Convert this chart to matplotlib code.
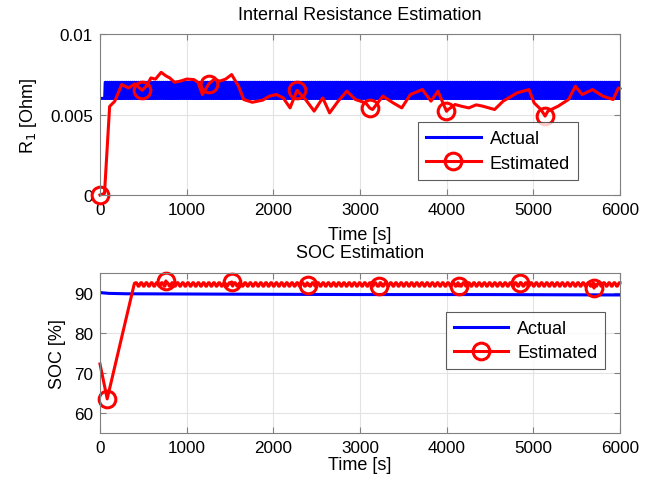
import numpy as np
import matplotlib
matplotlib.use('Agg')
import matplotlib.pyplot as plt

plt.rcParams['font.family'] = ['Liberation Sans', 'DejaVu Sans']

# ---- internal resistance (top) ----
r1_low, r1_high = 0.006, 0.007      # pulse levels of the actual R1
r1_pulse_start = 60                  # s
r1_half_period = 12                  # s

r1_est_t = [0, 52, 111, 171, 250, 329, 400, 488, 540, 587, 640, 706, 760, 805, 860,
            924, 1000, 1083, 1130, 1182, 1255, 1320, 1380, 1450, 1519, 1598, 1658,
            1757, 1876, 1955, 2035, 2114, 2193, 2273, 2372, 2471, 2570, 2649, 2748,
            2848, 2947, 3066, 3113, 3145, 3264, 3383, 3482, 3581, 3720, 3819, 3899,
            3998, 4018, 4097, 4180, 4256, 4340, 4414, 4553, 4652, 4811, 4950, 5009,
            5088, 5136, 5168, 5287, 5406, 5485, 5564, 5683, 5802, 5921, 5981, 6000]
r1_est_v = [0.0, 0.0001, 0.0055, 0.00583, 0.00686, 0.00665, 0.0069, 0.0065, 0.0068,
            0.00727, 0.0072, 0.00762, 0.0074, 0.00727, 0.0070, 0.00707, 0.0072,
            0.00717, 0.0070, 0.00624, 0.0069, 0.0072, 0.00707, 0.0072, 0.00748,
            0.00676, 0.00593, 0.00576, 0.00589, 0.00614, 0.00624, 0.00603, 0.00541,
            0.0065, 0.00593, 0.00521, 0.00603, 0.0051, 0.00583, 0.00645, 0.00593,
            0.00572, 0.0054, 0.00531, 0.00614, 0.00572, 0.00541, 0.00624, 0.00655,
            0.00583, 0.00645, 0.0052, 0.00531, 0.00562, 0.0055, 0.00541, 0.0056,
            0.00552, 0.00531, 0.00583, 0.00634, 0.00655, 0.00572, 0.00531, 0.0049,
            0.00521, 0.00552, 0.00593, 0.00676, 0.00624, 0.00655, 0.00614, 0.00593,
            0.00665, 0.0066]
r1_marker_t = [0, 488, 1255, 2273, 3113, 3998, 5136]

# ---- SOC (bottom) ----
soc_act_t = [0, 100, 300, 1500, 3000, 4500, 6000]
soc_act_v = [90.0, 89.8, 89.7, 89.6, 89.5, 89.5, 89.4]

soc_est_start_t = [0, 83, 397]
soc_est_start_v = [72.2, 63.5, 92.3]
soc_est_level = 92.0
soc_ripple = [0.45, 0.45, 0.1, -0.4, -0.4, 0.0]   # repeating 60 s ripple, 10 s steps
soc_marker_t = [83, 757, 1519, 2399, 3224, 4137, 4850, 5703]
soc_marker_v = [63.5, 92.9, 92.65, 91.9, 91.65, 91.65, 92.5, 91.1]

# build actual R1 pulse train
t_act = np.arange(0, 6001, 6)
r1_act = np.where((t_act >= r1_pulse_start) & (((t_act - r1_pulse_start) // r1_half_period) % 2 == 0),
                  r1_high, r1_low)

# build estimated SOC
t_steady = np.arange(410, 6001, 10)
v_steady = soc_est_level + np.resize(soc_ripple, len(t_steady))
soc_t = np.concatenate([soc_est_start_t, t_steady])
soc_v = np.concatenate([soc_est_start_v, v_steady])
soc_idx = [int(np.argmin(np.abs(soc_t - m))) for m in soc_marker_t]
soc_v[soc_idx] = soc_marker_v

r1_idx = [r1_est_t.index(m) for m in r1_marker_t]

W, H = 654, 485
fig = plt.figure(figsize=(W / 100, H / 100), dpi=100)
ax1 = fig.add_axes([100 / W, 1 - 196 / H, 520 / W, 161 / H])
ax2 = fig.add_axes([100 / W, 1 - 434 / H, 520 / W, 160.5 / H])

fs = 13
tfs = 12.3
spine_c = '#808080'

ax1.plot(t_act, r1_act, color='#0000ff', lw=2.2, label='Actual')
ax1.plot(r1_est_t, r1_est_v, color='#ff0000', lw=2.2, marker='o', ms=12,
         mfc='none', mew=2.2, markevery=r1_idx, label='Estimated', clip_on=False)
ax1.set_ylim(0, 0.01)
ax1.set_yticks([0, 0.005, 0.01])
ax1.set_yticklabels(['0', '0.005', '0.01'])

ax2.plot(soc_act_t, soc_act_v, color='#0000ff', lw=2.2, label='Actual')
ax2.plot(soc_t, soc_v, color='#ff0000', lw=2.2, marker='o', ms=12,
         mfc='none', mew=2.2, markevery=soc_idx, label='Estimated', clip_on=False)
ax2.set_ylim(55, 95)
ax2.set_yticks([60, 70, 80, 90])

for ax in (ax1, ax2):
    ax.set_xlim(0, 6000)
    ax.set_xticks(range(0, 6001, 1000))
    ax.grid(True, color='#e3e3e3', lw=0.8)
    ax.set_axisbelow(True)
    ax.tick_params(direction='in', top=True, right=True, length=4, color=spine_c,
                   labelsize=tfs, pad=5)
    for s in ax.spines.values():
        s.set_color(spine_c)
    ax.set_xlabel('Time [s]', fontsize=fs)

ax1.xaxis.set_label_coords(0.5, -0.19)
ax2.xaxis.set_label_coords(0.5, -0.143)

ax1.set_ylabel(r'R$_1$ [Ohm]', fontsize=fs)
ax1.yaxis.set_label_coords(-0.118, 0.5)
ax2.set_ylabel('SOC [%]', fontsize=fs)
ax2.yaxis.set_label_coords(-0.066, 0.5)

ax1.text(0.5, 1 + 20 / 161, 'Internal Resistance Estimation', transform=ax1.transAxes,
         ha='center', va='center', fontsize=fs)
ax2.text(0.5, 1 + 20 / 160.5, 'SOC Estimation', transform=ax2.transAxes,
         ha='center', va='center', fontsize=fs)

for ax, anchor in ((ax1, (0.612, 0.452)), (ax2, (0.665, 0.754))):
    leg = ax.legend(loc='upper left', bbox_to_anchor=anchor, borderaxespad=0,
                    fontsize=fs, handlelength=3.0, frameon=True, fancybox=False,
                    borderpad=0.45, labelspacing=0.4, handletextpad=0.5)
    leg.get_frame().set_edgecolor('#333333')
    leg.get_frame().set_linewidth(0.8)

fig.savefig('out.png', dpi=100)
